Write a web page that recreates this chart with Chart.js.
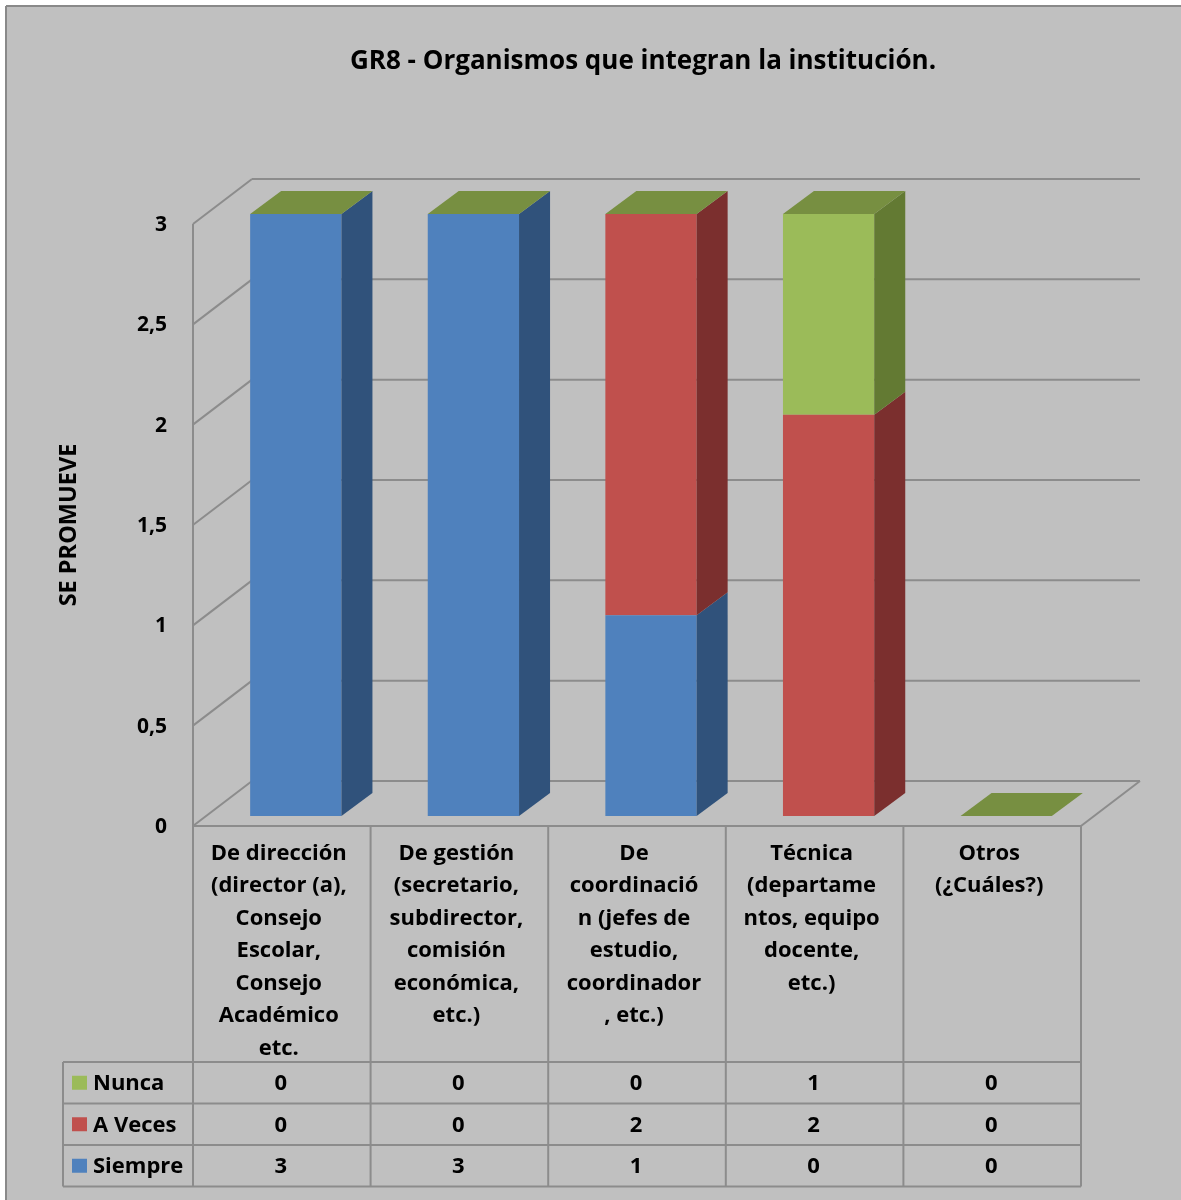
<!DOCTYPE html>
<html>
<head>
<meta charset="utf-8">
<title>GR8 - Organismos que integran la institución.</title>
<script src="https://cdn.jsdelivr.net/npm/chart.js@4/dist/chart.umd.min.js"></script>
<style>
  html, body { margin: 0; padding: 0; background: #ffffff; }
  canvas { display: block; }
</style>
</head>
<body>
<canvas id="chart" width="1181" height="1200"></canvas>
<script>
// ---- data ----
const chartTitle = 'GR8 - Organismos que integran la institución.';
const axisTitle = 'SE PROMUEVE';
const categories = [
  ['De dirección', '(director (a),', 'Consejo', 'Escolar,', 'Consejo', 'Académico', 'etc.'],
  ['De gestión', '(secretario,', 'subdirector,', 'comisión', 'económica,', 'etc.)'],
  ['De', 'coordinació', 'n (jefes de', 'estudio,', 'coordinador', ', etc.)'],
  ['Técnica', '(departame', 'ntos, equipo', 'docente,', 'etc.)'],
  ['Otros', '(¿Cuáles?)']
];
const siempre = [3, 3, 1, 0, 0];
const aVeces  = [0, 0, 2, 2, 0];
const nunca   = [0, 0, 0, 1, 0];
const yTickLabels = ['0', '0,5', '1', '1,5', '2', '2,5', '3'];

// ---- look ----
const FONT = '"Open Sans", Lato, sans-serif';
const GRID = '#8c8c8c';
const palette = {
  'Siempre': { front: '#4f81bd', side: '#30527b' },
  'A Veces': { front: '#c0504d', side: '#7b2f2e' },
  'Nunca':   { front: '#9bbb59', side: '#637a33', top: '#778f41' }
};
// depth offsets relative to the plane the bar fronts sit on
const FRONT = { dx: -14, dy: 10 };   // floor front edge / axis plane
const BACK  = { dx: 45,  dy: -35 };  // back wall
const BAR_DEPTH = { dx: 31, dy: -23 };
// data table rows
const TABLE = { left: 63, labelBottom: 1062, rowH: 41.5 };

const datasets = [
  { label: 'Siempre', data: siempre },
  { label: 'A Veces', data: aVeces },
  { label: 'Nunca',   data: nunca }
].map(d => ({
  ...d,
  backgroundColor: palette[d.label].front,
  borderWidth: 0,
  categoryPercentage: 1,
  barPercentage: 0.514
}));

function poly(ctx, pts, fill) {
  ctx.beginPath();
  ctx.moveTo(pts[0][0], pts[0][1]);
  for (let i = 1; i < pts.length; i++) ctx.lineTo(pts[i][0], pts[i][1]);
  ctx.closePath();
  ctx.fillStyle = fill;
  ctx.fill();
}

function line(ctx, x1, y1, x2, y2) {
  ctx.beginPath();
  ctx.moveTo(x1, y1);
  ctx.lineTo(x2, y2);
  ctx.stroke();
}

const depthPlugin = {
  id: 'depth3d',
  beforeDraw(chart) {
    const ctx = chart.ctx;
    ctx.save();
    ctx.fillStyle = '#ffffff';
    ctx.fillRect(0, 0, chart.width, chart.height);
    ctx.fillStyle = '#c0c0c0';
    ctx.fillRect(6, 6, chart.width, chart.height);
    ctx.strokeStyle = '#898989';
    ctx.lineWidth = 2;
    line(ctx, 6, chart.height, 6, 6);
    line(ctx, 6, 6, chart.width, 6);

    // chart title
    ctx.fillStyle = '#000000';
    ctx.font = 'bold 26px ' + FONT;
    ctx.textAlign = 'center';
    ctx.textBaseline = 'middle';
    ctx.fillText(chartTitle, 643, 62);

    // value axis title
    ctx.translate(69, 525);
    ctx.rotate(-Math.PI / 2);
    ctx.font = 'bold 23.5px ' + FONT;
    ctx.fillText(axisTitle, 0, 0);
    ctx.restore();
  },
  beforeDatasetsDraw(chart) {
    const { ctx, chartArea: a, scales: { y } } = chart;
    ctx.save();
    ctx.strokeStyle = GRID;
    ctx.lineWidth = 2;
    y.ticks.forEach(t => {
      const py = y.getPixelForValue(t.value);
      line(ctx, a.left + BACK.dx, py + BACK.dy, a.right + BACK.dx, py + BACK.dy);
      line(ctx, a.left + FRONT.dx, py + FRONT.dy, a.left + BACK.dx, py + BACK.dy);
    });
    const yTop = y.getPixelForValue(y.max), yBot = y.getPixelForValue(0);
    line(ctx, a.left + FRONT.dx, yTop + FRONT.dy, a.left + FRONT.dx, yBot + FRONT.dy);
    line(ctx, a.right + FRONT.dx, yBot + FRONT.dy, a.right + BACK.dx, yBot + BACK.dy);
    ctx.restore();
  },
  afterDatasetsDraw(chart) {
    const { ctx, chartArea: a, scales: { x } } = chart;
    ctx.save();
    // side faces, bottom segment first
    chart.data.datasets.forEach((ds, di) => {
      const meta = chart.getDatasetMeta(di);
      meta.data.forEach(bar => {
        const { x: cx, y: top, base, width } = bar.getProps(['x', 'y', 'base', 'width'], true);
        const x1 = cx + width / 2;
        if (Math.abs(base - top) > 0.5) {
          poly(ctx, [[x1, top], [x1 + BAR_DEPTH.dx, top + BAR_DEPTH.dy],
                     [x1 + BAR_DEPTH.dx, base + BAR_DEPTH.dy], [x1, base]],
               palette[ds.label].side);
        }
      });
    });
    // top faces of each stack
    const lastIdx = chart.data.datasets.length - 1;
    const topColor = palette[chart.data.datasets[lastIdx].label].top;
    chart.getDatasetMeta(lastIdx).data.forEach(bar => {
      const { x: cx, y: top, width } = bar.getProps(['x', 'y', 'width'], true);
      const x0 = cx - width / 2, x1 = cx + width / 2;
      poly(ctx, [[x0, top], [x1, top], [x1 + BAR_DEPTH.dx, top + BAR_DEPTH.dy],
                 [x0 + BAR_DEPTH.dx, top + BAR_DEPTH.dy]], topColor);
    });

    // data table under the plot
    const slot = (a.right - a.left) / chart.data.labels.length;
    const tTop = a.bottom + FRONT.dy;
    const rows = chart.data.datasets.slice().reverse();
    const tBottom = TABLE.labelBottom + rows.length * TABLE.rowH;
    const tLeft = a.left + FRONT.dx, tRight = a.right + FRONT.dx;
    ctx.strokeStyle = GRID;
    ctx.lineWidth = 2;
    line(ctx, tLeft, tTop, tRight, tTop);
    for (let i = 0; i <= chart.data.labels.length; i++) {
      const px = tLeft + i * slot;
      line(ctx, px, tTop, px, tBottom);
    }
    for (let r = 0; r <= rows.length; r++) {
      const py = TABLE.labelBottom + r * TABLE.rowH;
      line(ctx, TABLE.left, py, tRight, py);
    }
    line(ctx, TABLE.left, TABLE.labelBottom, TABLE.left, tBottom);

    ctx.font = 'bold 22px ' + FONT;
    ctx.textBaseline = 'middle';
    rows.forEach((ds, r) => {
      const cy = TABLE.labelBottom + (r + 0.5) * TABLE.rowH;
      ctx.fillStyle = palette[ds.label].front;
      ctx.fillRect(TABLE.left + 9, cy - 7, 15, 14);
      ctx.fillStyle = '#000000';
      ctx.textAlign = 'left';
      ctx.fillText(ds.label, TABLE.left + 30, cy + 1);
      ctx.textAlign = 'center';
      ds.data.forEach((v, i) => {
        ctx.fillText(String(v), x.getPixelForValue(i) + FRONT.dx - 1, cy + 1);
      });
    });
    ctx.restore();
  }
};

new Chart(document.getElementById('chart'), {
  type: 'bar',
  data: { labels: categories, datasets },
  options: {
    responsive: false,
    animation: false,
    devicePixelRatio: 1,
    layout: { padding: { left: 6, top: 214, right: 86, bottom: 0 } },
    plugins: {
      legend: { display: false },
      title: { display: false },
      tooltip: { enabled: false }
    },
    scales: {
      x: {
        stacked: true,
        grid: { display: false, drawTicks: false },
        border: { display: false },
        ticks: {
          color: '#000000',
          font: { family: FONT, size: 22, weight: 'bold', lineHeight: 32.5 / 22 },
          padding: 21,
          labelOffset: FRONT.dx - 3,
          maxRotation: 0,
          autoSkip: false
        },
        afterFit(s) { s.height = 384; }
      },
      y: {
        stacked: true,
        min: 0,
        max: 3,
        grid: { display: false, drawTicks: false },
        border: { display: false },
        ticks: {
          stepSize: 0.5,
          color: '#000000',
          font: { family: FONT, size: 21, weight: 'bold' },
          padding: 40,
          labelOffset: FRONT.dy + 1,
          callback: (v, i) => yTickLabels[i]
        },
        afterFit(s) { s.width = 201; }
      }
    }
  },
  plugins: [depthPlugin]
});
</script>
</body>
</html>
